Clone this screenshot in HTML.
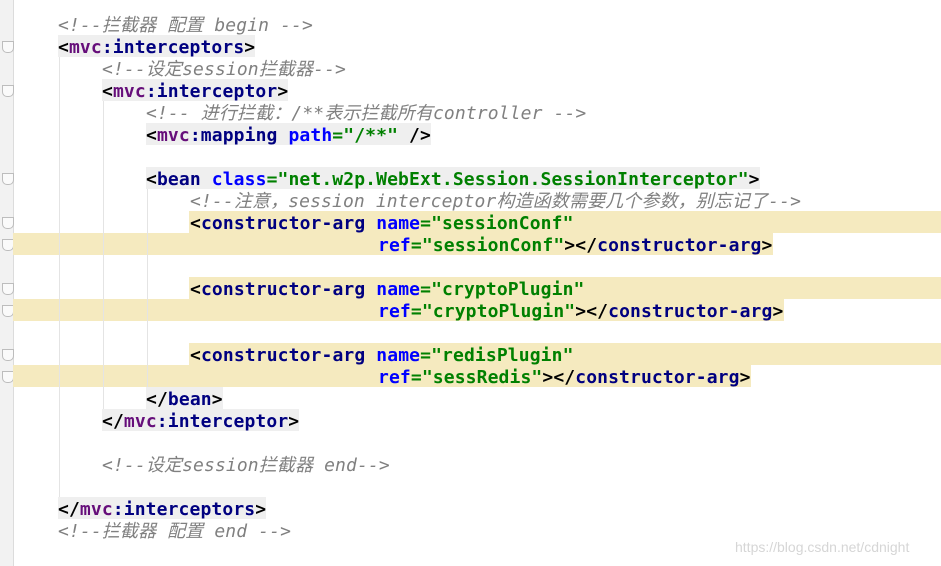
<!DOCTYPE html>
<html><head><meta charset="utf-8"><style>
body{margin:0;width:941px;height:566px;background:#fff;position:relative;overflow:hidden;font-family:"DejaVu Sans Mono","Liberation Mono","Noto Sans CJK SC",monospace;font-size:18px;font-weight:bold;}
.g{position:absolute;left:0;top:0;width:13px;height:566px;background:#f2f2f2;border-right:1px solid #dcdcdc;}
.ig{position:absolute;width:1px;background:#e4e4e4;}
.l{position:absolute;height:22px;line-height:26px;white-space:pre;letter-spacing:0.12px;overflow:visible}
.t{background:#efefef}
.y{position:absolute;height:22px;background:#f5eabf}
.c{color:#808080;font-style:italic;font-weight:normal;font-family:"DejaVu Sans Mono","Noto Sans CJK SC",monospace}
.n{color:#000080}.p{color:#660e7a}.a{color:#0000ff}.v{color:#008000}
.f{position:absolute;left:2px;width:10px;height:10px;border:1px solid #bdbdbd;background:#fafafa;border-radius:0 0 5px 5px}
.wm{position:absolute;left:735px;top:539px;font:14px "Liberation Sans",sans-serif;color:#d6d6d6;font-weight:normal}
</style></head><body>
<div class="g"></div>
<div class="f" style="top:41px"></div><div class="f" style="top:85px"></div><div class="f" style="top:173px"></div>
<div class="f" style="top:217px"></div><div class="f" style="top:239px"></div>
<div class="f" style="top:283px"></div><div class="f" style="top:305px"></div>
<div class="f" style="top:349px"></div><div class="f" style="top:371px"></div>
<div class="y" style="left:189px;top:211px;width:752px"></div><div class="y" style="left:13px;top:233px;width:760px"></div>
<div class="y" style="left:189px;top:277px;width:752px"></div><div class="y" style="left:13px;top:299px;width:771px"></div>
<div class="y" style="left:189px;top:343px;width:752px"></div><div class="y" style="left:13px;top:365px;width:738px"></div>
<div class="ig" style="left:59px;top:57px;height:440px"></div>
<div class="ig" style="left:103px;top:101px;height:308px"></div>
<div class="ig" style="left:147px;top:189px;height:198px"></div>
<div class="l c" style="left:58px;top:13px">&lt;!--拦截器 配置 begin --&gt;</div>
<div class="l t" style="left:58px;top:35px">&lt;<span class="p">mvc</span><span class="n">:interceptors</span>&gt;</div>
<div class="l c" style="left:102px;top:57px">&lt;!--设定session拦截器--&gt;</div>
<div class="l t" style="left:102px;top:79px">&lt;<span class="p">mvc</span><span class="n">:interceptor</span>&gt;</div>
<div class="l c" style="left:146px;top:101px">&lt;!-- 进行拦截：/**表示拦截所有controller --&gt;</div>
<div class="l t" style="left:146px;top:123px">&lt;<span class="p">mvc</span><span class="n">:mapping</span> <span class="a">path</span><span class="v">="/**"</span> /&gt;</div>
<div class="l t" style="left:146px;top:167px">&lt;<span class="n">bean</span> <span class="a">class</span><span class="v">="net.w2p.WebExt.Session.SessionInterceptor"</span>&gt;</div>
<div class="l c" style="left:190px;top:189px">&lt;!--注意，session interceptor构造函数需要几个参数，别忘记了--&gt;</div>
<div class="l" style="left:190px;top:211px">&lt;<span class="n">constructor-arg</span> <span class="a">name</span><span class="v">="sessionConf"</span></div>
<div class="l" style="left:378px;top:233px"><span class="a">ref</span><span class="v">="sessionConf"</span>&gt;&lt;/<span class="n">constructor-arg</span>&gt;</div>
<div class="l" style="left:190px;top:277px">&lt;<span class="n">constructor-arg</span> <span class="a">name</span><span class="v">="cryptoPlugin"</span></div>
<div class="l" style="left:378px;top:299px"><span class="a">ref</span><span class="v">="cryptoPlugin"</span>&gt;&lt;/<span class="n">constructor-arg</span>&gt;</div>
<div class="l" style="left:190px;top:343px">&lt;<span class="n">constructor-arg</span> <span class="a">name</span><span class="v">="redisPlugin"</span></div>
<div class="l" style="left:378px;top:365px"><span class="a">ref</span><span class="v">="sessRedis"</span>&gt;&lt;/<span class="n">constructor-arg</span>&gt;</div>
<div class="l t" style="left:146px;top:387px">&lt;/<span class="n">bean</span>&gt;</div>
<div class="l t" style="left:102px;top:409px">&lt;/<span class="p">mvc</span><span class="n">:interceptor</span>&gt;</div>
<div class="l c" style="left:102px;top:453px">&lt;!--设定session拦截器 end--&gt;</div>
<div class="l t" style="left:58px;top:497px">&lt;/<span class="p">mvc</span><span class="n">:interceptors</span>&gt;</div>
<div class="l c" style="left:58px;top:519px">&lt;!--拦截器 配置 end --&gt;</div>
<div class="wm">https://blog.csdn.net/cdnight</div>
</body></html>
